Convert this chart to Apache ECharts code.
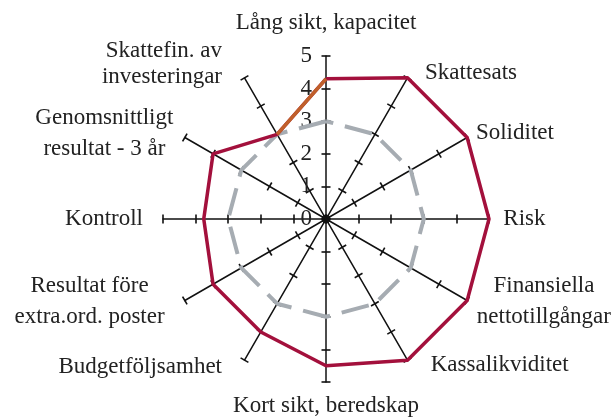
<!DOCTYPE html>
<html><head><meta charset="utf-8">
<script src="https://cdn.jsdelivr.net/npm/echarts@6/dist/echarts.min.js"></script>
<style>html,body{margin:0;padding:0;background:#fff}#c{width:613px;height:417px}</style>
</head><body><div id="c"></div>
<script>
// Axes in clockwise visual order, starting at top
const categories = ['Lång sikt, kapacitet','Skattesats','Soliditet','Risk','Finansiella\nnettotillgångar','Kassalikviditet','Kort sikt, beredskap','Budgetföljsamhet','Resultat före\nextra.ord. poster','Kontroll','Genomsnittligt\nresultat - 3 år','Skattefin. av\ninvesteringar'];
const outcome = [4.3, 5, 5, 5, 5, 5, 4.5, 4.0, 4.0, 3.75, 4.0, 3.0];
const target  = [3, 3, 3, 3, 3, 3, 3, 3, 3, 3, 3, 3];
const tickLabels = ['0','1','2','3','4','5'];
const maxValue = 5;

// label layout (style only): padding [top, right, bottom, left] per axis name, visual order
const namePadding = [
  [0, 0, 8.5, 0], [0, 0, 3.6, 15.5], [0, 0, 5, 5.3], [0, 0, 0, 10.3],
  [0, 0, 2, 11.3], [3.6, 0, 0, 21.2], [7, 0, 0, 0], [7.6, 20.5, 0, 0],
  [0, 16.8, 2.4, 0], [0, 16, 1, 0], [0, 5.5, 4.4, 0], [0, 20.5, 21, 0]
];
const serif = 'Liberation Serif';
const FS = 23;
const nameStyle = { fontFamily: serif, fontSize: FS, color: '#222', align: 'center', lineHeight: 31 };
const richName = {
  'Genomsnittligt\nresultat - 3 år': 'g',
  'Resultat före\nextra.ord. poster': 'r',
  'Finansiella\nnettotillgångar': 'f'
};

const n = categories.length;
// ECharts radar lays indicators counter-clockwise; reorder to get clockwise
const order = [0].concat(Array.from({length: n - 1}, (_, i) => n - 1 - i));
const reorder = arr => order.map(i => arr[i]);
const indicator = order.map((idx, k) => ({
  name: categories[idx], max: maxValue, min: 0,
  axisLabel: { show: k === 0 },
  nameTextStyle: { padding: namePadding[idx] }
}));
const tickIndicator = order.map(() => ({ name: '', max: maxValue, min: 0 }));

const chart = echarts.init(document.getElementById('c'), null, {renderer: 'canvas'});
chart.setOption({
  animation: false,
  backgroundColor: '#fff',
  radar: [{
    center: [326, 219],
    radius: 163,
    startAngle: 90,
    splitNumber: 5,
    shape: 'polygon',
    indicator: indicator,
    nameGap: 4, axisNameGap: 4,
    axisName: {
      color: '#222', fontFamily: serif, fontSize: FS, lineHeight: 26,
      formatter: function (name) {
        const k = richName[name];
        if (!k) return name;
        return name.split('\n').map(s => '{' + k + '|' + s + '}').join('\n');
      },
      rich: {
        g: Object.assign({ width: 143 }, nameStyle),
        r: Object.assign({ width: 150 }, nameStyle),
        f: Object.assign({ width: 124 }, nameStyle)
      }
    },
    splitLine: { show: false },
    splitArea: { show: false },
    axisLine: { show: true, lineStyle: { color: '#111', width: 1.5 } },
    axisTick: { show: true, length: 4.5, lineStyle: { color: '#111', width: 1.6 } },
    axisLabel: {
      show: true, margin: 14, color: '#222', fontFamily: serif, fontSize: FS,
      formatter: v => tickLabels[Math.round(v)] ?? ''
    }
  }, {
    center: [326, 219],
    radius: 163,
    startAngle: 90,
    splitNumber: 5,
    shape: 'polygon',
    indicator: tickIndicator,
    axisName: { show: false },
    splitLine: { show: false },
    splitArea: { show: false },
    axisLine: { show: false },
    axisTick: { show: true, length: -4.5, lineStyle: { color: '#111', width: 1.6 } },
    axisLabel: { show: false }
  }],
  polar: { center: [326, 219], radius: 163 },
  angleAxis: { type: 'value', min: 0, max: 360, startAngle: 90, clockwise: true, show: false },
  radiusAxis: { type: 'value', min: 0, max: maxValue, show: false },
  series: [
    {
      type: 'radar', radarIndex: 0, z: 2, symbol: 'none',
      lineStyle: { color: '#a6acb2', width: 4, type: [28, 12] },
      data: [{ value: reorder(target) }]
    },
    {
      type: 'radar', radarIndex: 0, z: 3, symbol: 'none',
      lineStyle: { color: '#a3103c', width: 3.5 },
      data: [{ value: reorder(outcome) }]
    },
    {
      type: 'line', coordinateSystem: 'polar', z: 4, symbol: 'none',
      lineStyle: { color: '#c0602a', width: 3.5 },
      data: [[outcome[n - 1], (n - 1) * 360 / n], [outcome[0], 360]]
    }
  ]
});
</script></body></html>
